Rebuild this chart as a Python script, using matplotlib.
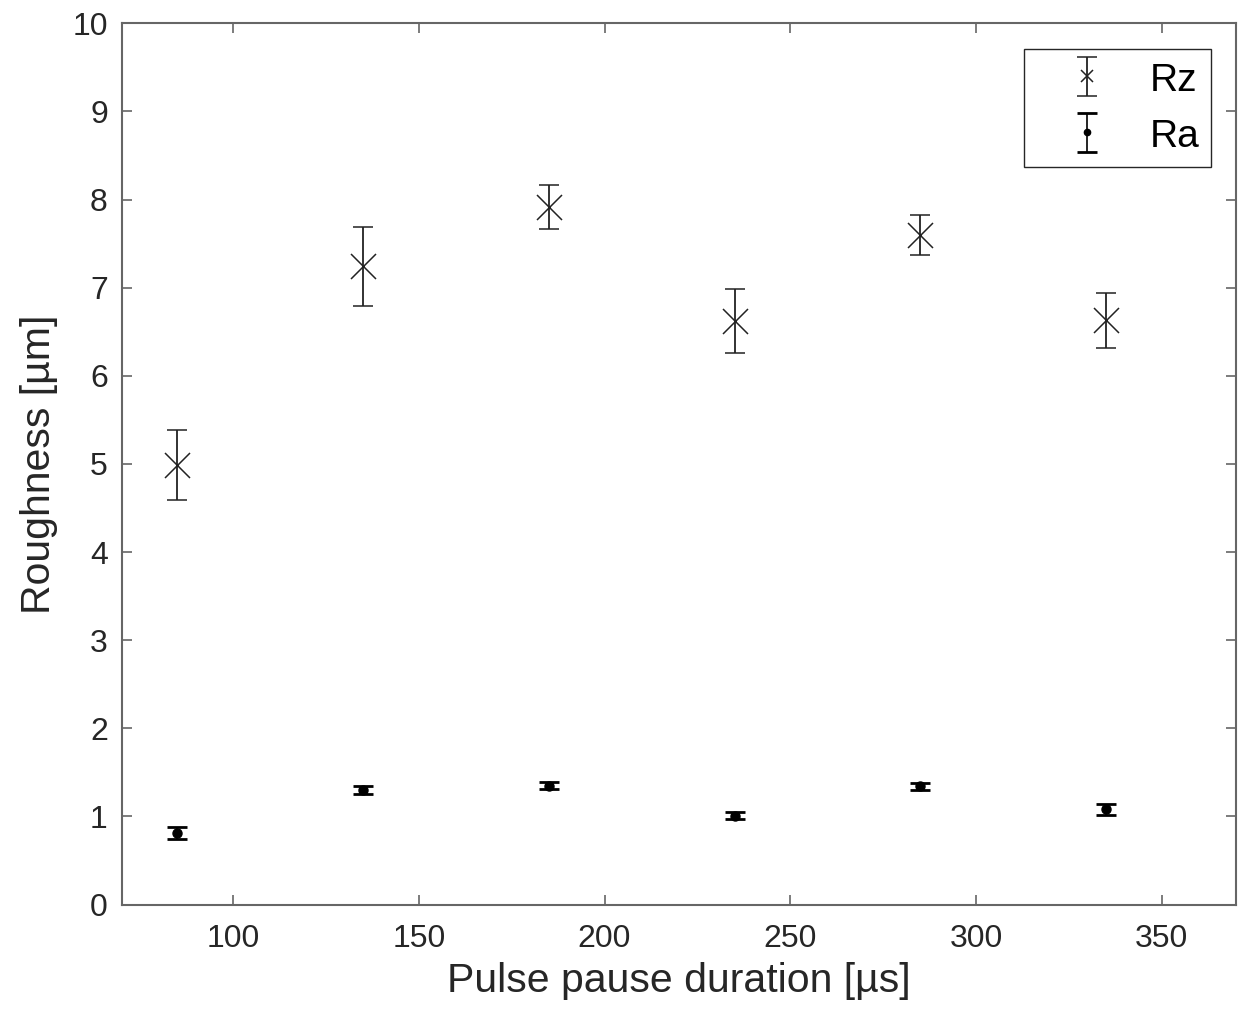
import matplotlib
matplotlib.use('Agg')
import matplotlib.pyplot as plt
from matplotlib.lines import Line2D

plt.rcParams['font.family'] = ['Liberation Sans', 'DejaVu Sans']

# pulse pause duration [µs]
pause = [85, 135, 185, 235, 285, 335]
# Rz mean and error
rz = [4.99, 7.24, 7.91, 6.62, 7.60, 6.63]
rz_err = [0.40, 0.45, 0.25, 0.36, 0.23, 0.31]
# Ra mean and error
ra = [0.81, 1.30, 1.35, 1.01, 1.34, 1.08]
ra_err = [0.07, 0.05, 0.04, 0.04, 0.04, 0.06]

xticks = [100, 150, 200, 250, 300, 350]
yticks = list(range(0, 11))

fig = plt.figure(figsize=(12.39, 10.21), dpi=100)
ax = fig.add_axes([0.0982, 0.1141, 0.8994, 0.8631])

ax.errorbar(pause, rz, yerr=rz_err, ls='none', marker='x', ms=18, mew=1.1,
            color='#222222', ecolor='#222222', elinewidth=1.3, capsize=7.5,
            capthick=1.3, label='Rz')
ax.errorbar(pause, ra, yerr=ra_err, ls='none', marker='o', ms=6.5,
            color='black', ecolor='black', elinewidth=1.2, capsize=7.5,
            capthick=2.0, label='Ra')

ax.set_xlim(70, 370)
ax.set_ylim(0, 10)
ax.set_xticks(xticks)
ax.set_yticks(yticks)
ax.tick_params(direction='in', length=7, width=1.2, colors='#666666',
               labelcolor='#262626', labelsize=23, top=True, right=True, pad=10)
ax.tick_params(axis='x', pad=14)
for s in ax.spines.values():
    s.set_color('#666666'); s.set_linewidth(1.5)

ax.set_xlabel('Pulse pause duration [µs]', fontsize=29.5, color='#262626', labelpad=6)
ax.set_ylabel('Roughness [µm]', fontsize=29.5, color='#262626', labelpad=10)

leg = ax.legend(loc='upper right', bbox_to_anchor=(0.9776, 0.9705), borderaxespad=0,
                fontsize=28, fancybox=False, framealpha=1, edgecolor='#262626',
                handlelength=2.6, handletextpad=0.3, labelspacing=0.48,
                borderpad=0.31, handleheight=0.9)
leg.get_frame().set_linewidth(1.0)
for ln in leg.findobj(Line2D):
    if ln.get_marker() == 'x':
        ln.set_markersize(9)
    elif ln.get_marker() == 'o':
        ln.set_markersize(4.5)

fig.savefig('out.png', dpi=100)
